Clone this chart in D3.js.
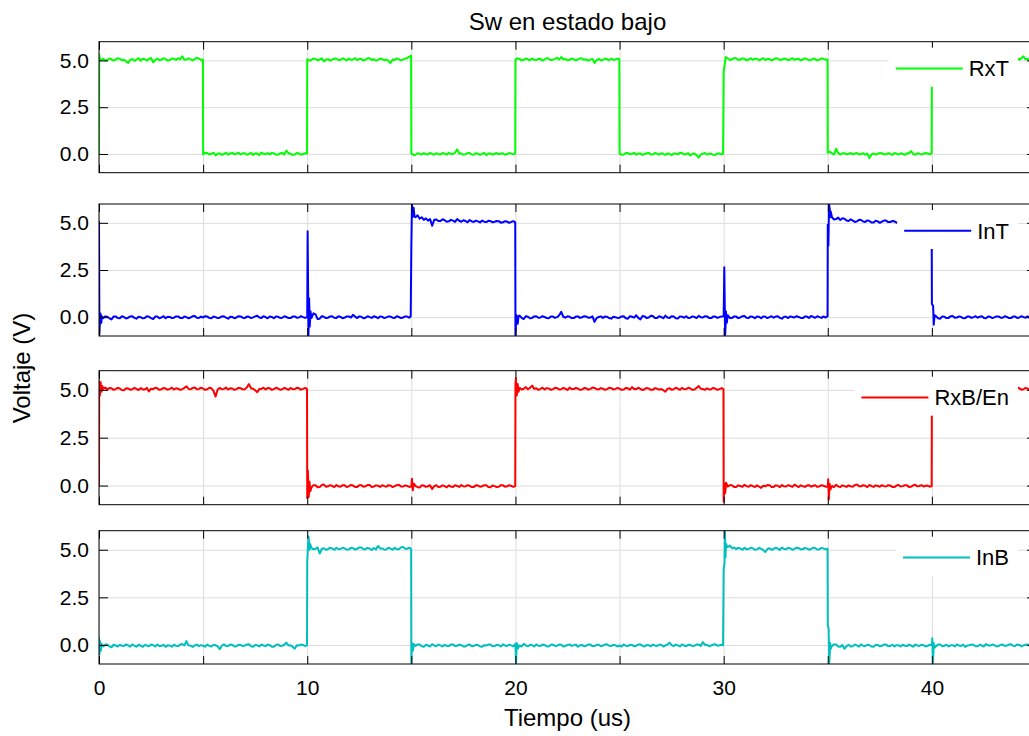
<!DOCTYPE html>
<html>
<head>
<meta charset="utf-8">
<script src="https://cdn.jsdelivr.net/npm/d3@7"></script>
<style>
  body { margin: 0; background: #fff; }
  svg { display: block; }
  text { font-family: "Liberation Sans", Arial, Helvetica, sans-serif; fill: #000; }
</style>
</head>
<body>
<svg id="chart" width="1029" height="736"></svg>
<script>
// Four scope channels, sampled every 0.1 us from 0 to 45 us (one row = 5 us).
const seriesNames = ["RxT", "InT", "RxB/En", "InB"];
const seriesColors = ["#00ff00", "#0000ff", "#ff0000", "#00bfbf"];
const sampleStep = 0.1;
const xTickLabels = [0, 10, 20, 30, 40];
const yTickValues = [0, 2.5, 5];

// RxT
const rxtSamples = [
  0.00,5.02,5.08,5.00,5.02,5.10,5.06,4.99,5.04,5.11,5.09,5.01,5.03,4.95,4.86,5.04,5.07,4.98,5.05,5.12,4.98,5.09,5.06,5.00,5.08,5.13,4.90,5.02,5.10,5.01,5.04,5.12,5.07,4.99,5.02,5.10,5.09,5.03,5.12,5.06,5.22,5.04,5.05,5.11,5.06,5.00,5.08,5.13,5.10,5.02,
  -0.02,0.06,0.05,-0.03,0.01,0.07,-0.08,0.02,0.03,-0.05,0.00,0.06,-0.04,0.03,0.06,-0.02,0.02,0.07,-0.03,0.04,0.04,-0.04,0.01,0.06,-0.05,0.03,0.02,-0.06,0.08,0.01,0.00,0.05,-0.02,0.06,0.03,-0.03,-0.04,0.04,0.05,-0.02,0.18,0.04,0.01,-0.05,-0.02,0.05,0.03,-0.04,0.00,0.04,
  5.06,5.00,5.02,5.10,5.08,5.01,5.05,5.11,4.95,5.04,5.07,4.99,5.04,5.10,5.09,5.02,5.03,5.12,5.06,5.00,5.10,5.03,5.05,5.12,5.02,5.08,5.08,4.99,5.04,5.11,5.11,5.02,5.06,5.00,5.03,5.10,5.07,5.01,5.05,4.98,4.86,5.05,5.02,5.11,5.06,5.00,5.04,5.10,5.12,5.20,
  0.03,-0.05,-0.04,0.04,0.02,-0.03,0.05,-0.02,-0.02,0.06,0.01,-0.04,0.04,0.00,-0.03,0.05,0.02,-0.04,0.06,0.01,0.00,0.07,0.25,0.02,0.03,-0.04,-0.01,0.05,0.05,-0.03,-0.04,0.04,0.02,-0.05,0.00,0.06,-0.06,0.02,0.03,-0.03,0.01,0.05,-0.02,0.03,0.04,-0.04,0.00,0.05,0.02,-0.02,
  5.04,5.11,5.08,5.00,5.03,5.10,5.06,5.01,5.10,5.03,5.02,5.09,5.07,4.99,5.05,5.12,5.09,5.02,5.04,5.08,5.14,5.05,5.18,5.06,5.08,5.01,5.03,5.10,5.07,5.00,5.05,5.11,5.10,5.03,5.06,4.99,5.04,5.08,4.86,5.02,5.08,5.00,5.02,5.10,5.06,5.01,5.09,5.03,5.05,5.10,
  0.02,-0.04,-0.03,0.05,0.05,-0.02,0.01,0.06,-0.04,0.02,0.03,-0.05,0.00,0.04,0.06,-0.03,-0.02,0.05,0.02,-0.04,0.04,0.01,-0.05,0.03,0.01,-0.06,0.03,0.02,-0.02,0.06,0.05,-0.03,0.00,0.04,-0.08,0.01,0.02,-0.06,-0.20,-0.02,0.01,0.05,-0.03,0.02,0.01,-0.04,-0.05,0.03,0.03,-0.02,
  4.40,5.18,5.10,5.02,5.06,5.13,5.12,5.03,5.04,5.11,5.08,5.00,5.05,5.12,5.03,5.09,5.09,5.01,5.06,5.12,5.02,5.08,5.07,5.00,5.05,5.11,5.10,5.03,5.04,5.10,5.08,5.01,5.06,5.12,5.03,5.08,5.09,5.00,5.05,5.11,5.07,5.01,5.02,5.10,5.06,5.00,5.04,5.11,5.08,5.03,
  0.06,0.12,0.04,-0.03,0.28,0.05,-0.03,0.04,0.04,-0.02,0.01,0.05,-0.02,0.03,0.05,-0.03,0.00,0.04,-0.04,0.02,-0.22,-0.02,0.03,-0.04,0.02,0.05,0.04,-0.02,-0.02,0.04,0.01,-0.05,0.05,0.02,-0.03,0.04,0.00,-0.04,0.03,0.05,0.15,0.00,-0.04,0.04,0.02,-0.03,0.01,0.05,0.03,-0.02,
  5.10,5.02,5.05,5.11,5.08,5.01,5.03,5.10,5.07,5.00,5.04,5.11,5.09,5.02,5.06,4.99,5.02,5.10,5.08,5.01,5.05,5.12,5.10,5.03,5.04,5.09,5.07,5.00,5.03,5.10,5.06,5.01,5.08,5.12,5.05,4.99,5.02,5.10,5.09,5.03,5.06,5.11,5.04,5.12,5.22,5.06,5.08,5.00,5.05,5.11,
  5.06
];
const rxtEvents = [
  [0.01,5.30],[0.05,5.05],[4.99,5.05],[9.99,0.02],[14.99,5.25],[19.99,0.02],
  [24.99,5.06],[29.97,0.02],[34.99,5.05],[39.99,0.03]
];

// InT
const intSamples = [
  5.10,0.08,-0.05,0.04,0.02,-0.06,-0.12,0.03,0.04,-0.05,-0.06,0.05,0.01,-0.07,-0.03,0.04,0.05,-0.04,-0.08,0.02,0.00,-0.06,-0.04,0.05,0.02,-0.05,-0.10,0.03,0.03,-0.06,-0.02,0.05,-0.06,0.02,0.01,-0.05,-0.03,0.04,0.04,-0.04,-0.05,0.03,0.00,-0.06,-0.02,0.05,0.06,-0.03,-0.04,0.03,
  -0.02,0.05,0.03,-0.04,-0.06,0.03,0.00,-0.05,-0.03,0.04,0.05,-0.03,-0.08,0.02,0.01,-0.06,-0.02,0.05,0.04,-0.03,-0.05,0.03,0.02,-0.05,-0.01,0.04,0.08,-0.02,-0.04,0.05,0.00,-0.06,0.03,0.01,-0.06,0.04,0.02,-0.04,-0.03,0.05,0.01,-0.05,-0.05,0.03,0.04,-0.03,-0.02,0.05,0.00,-0.04,
  0.00,0.60,-0.05,0.20,0.15,-0.10,-0.08,0.05,0.02,-0.05,-0.03,0.04,0.05,-0.03,-0.04,0.05,0.01,-0.06,-0.02,0.04,0.04,-0.02,0.12,0.03,-0.05,0.04,0.02,-0.06,-0.03,0.05,0.00,-0.04,0.05,0.01,-0.06,0.04,0.02,-0.05,-0.01,0.04,0.03,-0.03,-0.04,0.05,0.01,-0.05,-0.02,0.04,0.03,-0.03,
  3.80,5.55,5.30,5.40,5.22,5.30,5.15,5.24,5.12,5.20,4.85,5.16,5.18,5.10,5.10,5.19,5.14,5.06,5.08,5.16,5.12,5.05,5.20,5.11,5.06,5.14,5.10,5.03,5.15,5.08,5.05,5.12,5.08,5.02,5.12,5.06,5.04,5.11,5.10,5.03,5.06,5.10,5.09,5.01,5.03,5.09,5.07,5.00,5.05,5.09,
  -0.95,-0.20,0.08,-0.04,-0.10,0.05,0.02,-0.06,-0.04,0.04,0.05,-0.03,-0.02,0.05,0.01,-0.05,-0.06,0.03,0.03,-0.04,0.00,0.10,0.28,0.02,-0.03,0.05,0.02,-0.05,-0.05,0.03,0.04,-0.04,-0.01,0.05,0.03,-0.03,-0.02,0.04,-0.25,-0.05,0.01,0.04,-0.04,0.03,0.02,-0.05,-0.08,0.02,0.00,-0.04,
  -0.03,0.04,0.05,-0.06,-0.08,0.05,0.02,-0.03,0.10,-0.04,-0.12,0.06,0.04,-0.05,-0.02,0.07,0.06,-0.04,-0.05,0.05,0.01,-0.06,0.08,-0.02,-0.04,0.05,0.03,-0.06,-0.07,0.04,0.02,-0.03,0.05,-0.05,-0.03,0.04,0.01,-0.05,0.07,0.00,-0.02,0.05,0.04,-0.04,-0.05,0.03,0.03,-0.04,0.00,0.04,
  0.05,-0.30,0.10,-0.04,-0.05,0.04,0.03,-0.05,-0.02,0.05,0.06,-0.03,-0.04,0.04,0.01,-0.06,0.03,0.02,-0.06,0.04,0.02,-0.05,0.00,0.05,-0.03,0.03,0.05,-0.04,-0.08,0.02,0.02,-0.05,0.04,0.01,-0.02,0.05,0.01,-0.04,-0.05,0.03,0.03,-0.04,0.06,0.01,-0.03,0.05,0.00,-0.04,0.04,-0.02,
  4.90,5.70,5.30,5.18,5.20,5.28,5.15,5.24,5.22,5.12,5.10,5.19,5.12,5.05,5.08,5.16,5.15,5.07,5.05,5.13,5.10,5.02,5.02,5.11,5.08,5.00,5.06,5.12,5.12,5.04,5.04,5.10,5.08,5.01,5.03,5.09,5.06,5.00,5.05,5.10,5.02,5.08,5.07,5.00,5.04,5.10,5.06,5.01,5.03,5.09,
  0.70,-0.25,0.05,-0.06,-0.08,0.04,0.02,-0.05,-0.04,0.05,0.06,-0.03,-0.02,0.04,0.01,-0.06,-0.05,0.03,0.03,-0.04,0.00,0.05,-0.03,0.02,0.05,-0.04,-0.06,0.03,0.02,-0.05,-0.01,0.04,0.04,-0.03,-0.03,0.05,0.01,-0.05,-0.05,0.03,0.03,-0.04,-0.02,0.05,0.00,-0.03,0.04,-0.05,-0.03,0.04,
  0.01
];
const intEvents = [
  [0.02,-0.90],[0.06,0.20],[0.11,-0.30],[0.14,0.05],
  [10.02,4.55],[10.06,-0.95],[10.09,1.00],[10.12,-0.50],[10.16,0.30],
  [14.97,0.05],[15.03,5.95],[15.07,5.30],[15.11,5.80],[15.15,5.35],
  [19.99,5.03],[20.05,0.10],[20.11,-0.35],[20.15,0.05],
  [30.03,2.65],[30.07,-0.95],[30.11,0.30],[30.15,-0.30],
  [34.99,0.05],[35.03,3.80],[35.06,6.00],[35.11,5.30],[35.14,5.60],
  [39.99,5.04],[40.06,0.60],[40.09,-0.40],[40.13,0.10]
];

// RxB/En
const rxbSamples = [
  0.00,5.00,5.05,5.12,5.02,5.09,5.08,5.00,5.04,5.11,5.06,4.99,4.98,5.08,5.07,5.01,5.03,5.10,5.05,4.99,5.09,5.02,5.02,5.10,4.92,5.06,5.04,5.11,5.08,5.00,5.03,5.10,5.07,5.01,5.05,5.11,5.02,5.08,5.06,5.00,5.04,5.10,5.18,5.05,5.03,5.10,5.12,5.03,5.05,5.11,
  5.06,5.00,5.03,5.11,5.08,4.95,4.65,5.02,5.10,5.03,5.05,5.12,5.02,5.08,5.07,5.00,5.04,5.11,5.09,5.02,5.03,5.12,5.30,5.08,5.06,4.98,4.88,5.04,5.05,5.11,5.02,5.09,5.08,5.00,5.04,5.11,5.07,5.01,5.03,5.10,5.06,5.00,5.10,5.03,5.04,5.11,5.08,5.01,5.05,5.10,
  -0.65,-0.20,-0.10,0.02,0.02,-0.09,-0.08,0.03,0.05,-0.06,-0.04,0.02,-0.02,-0.08,0.03,-0.04,-0.06,0.02,0.01,-0.08,-0.03,0.03,0.00,-0.07,-0.07,0.01,0.02,-0.06,-0.04,0.03,0.03,-0.08,-0.05,0.01,-0.01,-0.07,0.02,-0.03,-0.06,0.02,0.00,-0.08,-0.03,0.02,0.04,-0.05,-0.05,0.01,-0.02,-0.07,
  -0.05,0.00,-0.02,-0.09,-0.10,0.01,0.00,-0.07,-0.04,0.02,-0.18,-0.03,0.02,-0.08,-0.06,0.01,-0.03,-0.09,0.01,-0.05,-0.08,0.02,-0.02,-0.07,0.03,-0.04,-0.05,0.02,-0.01,-0.08,-0.07,0.01,0.00,-0.06,-0.04,0.02,0.02,-0.07,-0.09,0.00,-0.03,-0.08,-0.06,0.02,0.01,-0.06,-0.04,0.02,-0.02,-0.07,
  5.30,5.00,5.10,5.02,5.06,5.14,5.03,5.10,5.22,5.05,5.08,5.00,5.05,5.11,5.02,5.09,5.07,5.00,5.04,5.11,5.09,5.02,5.03,5.10,5.06,4.99,5.12,5.04,5.04,5.10,5.07,5.00,5.02,5.09,5.08,5.01,5.05,5.12,5.10,5.03,5.03,5.09,5.06,5.00,5.04,5.11,5.09,5.02,5.05,5.10,
  5.06,5.00,5.02,5.10,5.08,5.01,5.14,5.05,5.04,5.11,5.05,4.99,5.03,5.10,5.07,5.00,5.00,5.09,5.06,5.01,5.04,4.98,4.90,5.05,5.08,5.01,5.03,5.11,5.06,5.00,5.10,5.03,5.04,5.11,5.07,5.00,5.02,5.10,5.20,5.06,5.05,5.00,5.08,5.02,5.03,5.10,5.06,5.00,5.04,5.09,
  -0.85,-0.10,-0.05,0.02,0.02,-0.08,-0.08,0.01,-0.02,-0.07,0.04,-0.03,-0.06,0.02,-0.03,-0.08,0.01,-0.05,-0.12,-0.01,-0.04,0.03,0.02,-0.07,-0.07,0.01,-0.01,-0.08,0.03,-0.04,-0.05,0.02,-0.02,-0.07,0.05,-0.02,-0.08,0.01,-0.03,-0.07,0.00,0.02,-0.06,-0.01,0.02,-0.07,-0.04,0.02,-0.01,-0.06,
  -0.05,0.00,-0.02,-0.08,0.04,-0.04,-0.08,0.01,-0.03,-0.07,0.01,-0.04,-0.06,0.02,0.06,-0.03,-0.04,0.02,-0.01,-0.08,0.03,-0.03,-0.07,0.01,-0.02,-0.06,0.02,-0.03,-0.05,0.02,0.00,-0.07,-0.08,0.00,0.03,-0.05,-0.03,0.02,0.01,-0.07,-0.06,0.01,0.04,-0.04,-0.02,0.02,-0.05,-0.01,0.00,-0.06,
  5.05,5.12,5.08,5.00,5.03,5.10,5.06,5.01,5.10,5.03,5.04,5.11,5.07,5.00,5.02,5.09,5.05,5.12,5.09,5.01,5.03,5.10,5.06,5.00,5.04,5.11,5.08,5.01,5.02,5.10,5.07,5.00,5.05,5.11,5.03,5.09,5.06,5.00,5.10,5.03,5.04,5.12,5.08,5.01,5.03,5.10,5.06,5.00,5.05,5.11,
  5.04
];
const rxbEvents = [
  [0.01,5.45],[0.04,4.70],[0.08,5.40],[0.12,4.90],[0.16,5.20],
  [9.99,5.05],[10.03,0.80],[10.07,-0.60],[10.11,0.20],[10.15,-0.30],
  [15.03,0.35],[15.07,-0.25],[15.12,0.10],
  [19.99,-0.03],[20.02,5.60],[20.06,4.70],[20.11,5.30],[20.15,4.90],
  [29.99,5.04],[30.03,0.10],[30.07,-0.40],[30.11,0.15],
  [35.02,0.33],[35.05,-0.72],[35.09,0.10],[35.13,-0.20],
  [39.99,-0.03]
];

// InB
const inbSamples = [
  0.40,-0.10,-0.08,0.02,0.02,-0.07,-0.12,0.01,-0.03,-0.08,0.01,-0.04,-0.06,0.03,-0.02,-0.09,0.03,-0.04,-0.09,0.01,-0.04,-0.10,0.00,-0.03,-0.07,0.02,-0.01,-0.08,0.02,-0.05,-0.05,0.01,-0.10,-0.02,-0.03,-0.09,0.01,-0.04,-0.06,0.02,0.05,-0.03,0.20,-0.02,-0.04,-0.10,-0.02,0.02,-0.06,-0.01,
  -0.04,-0.09,0.02,-0.05,-0.08,0.01,-0.02,-0.08,-0.22,-0.04,0.03,-0.06,-0.05,0.02,0.01,-0.08,-0.07,0.01,0.00,-0.06,-0.03,0.02,0.04,-0.07,-0.09,0.00,-0.02,-0.08,0.02,-0.03,-0.06,0.02,-0.01,-0.09,-0.10,0.00,0.03,-0.05,-0.04,0.01,0.12,-0.03,-0.02,-0.09,-0.20,-0.02,-0.03,0.02,0.00,-0.06,
  4.40,5.20,5.10,5.02,5.05,5.12,4.80,5.04,5.08,5.00,5.03,5.11,5.06,5.00,5.10,5.03,5.04,5.11,5.07,5.00,5.02,5.10,5.08,5.01,5.05,5.12,5.12,5.03,5.03,5.10,5.06,4.99,5.09,5.02,5.20,5.07,5.07,5.00,5.02,5.11,5.06,5.00,5.10,5.03,5.03,5.12,5.15,5.05,5.05,5.11,
  -0.95,-0.15,-0.05,0.03,0.02,-0.07,-0.10,0.01,-0.03,-0.08,0.04,-0.03,-0.07,0.02,-0.02,-0.08,0.01,-0.05,-0.06,0.02,0.03,-0.06,-0.04,0.01,-0.01,-0.08,-0.08,0.00,0.02,-0.06,-0.05,0.01,0.00,-0.08,-0.09,-0.01,-0.03,0.02,0.02,-0.07,-0.06,0.01,-0.01,-0.08,0.03,-0.03,-0.05,0.02,-0.02,-0.07,
  0.05,0.00,-0.03,-0.08,0.06,-0.02,-0.07,0.01,-0.01,-0.08,0.03,-0.04,-0.05,0.02,0.00,-0.07,-0.08,0.01,0.02,-0.05,-0.04,0.02,0.01,-0.08,-0.06,0.00,0.03,-0.05,-0.02,0.02,-0.09,-0.02,0.00,-0.07,-0.04,0.02,0.02,-0.06,-0.06,0.01,0.01,-0.07,-0.03,0.02,0.04,-0.04,-0.05,0.01,-0.01,-0.08,
  -0.03,-0.08,0.02,-0.04,-0.06,0.01,0.00,-0.07,-0.04,0.02,0.03,-0.05,-0.08,0.00,-0.01,-0.07,0.02,-0.03,-0.05,0.01,0.01,-0.08,-0.03,0.02,0.12,-0.01,-0.06,0.02,-0.02,-0.08,0.03,-0.03,-0.07,0.01,0.00,-0.06,-0.04,0.02,0.02,-0.05,0.15,0.00,0.01,-0.07,-0.03,0.02,0.04,-0.04,-0.02,0.01,
  3.95,5.00,5.15,5.22,5.08,5.12,5.03,5.11,5.06,5.00,5.10,5.02,5.04,5.11,5.07,5.00,5.02,5.10,5.05,4.98,4.88,5.04,5.08,5.00,5.04,5.11,5.06,4.99,5.12,5.04,5.03,5.10,5.07,5.00,5.05,5.11,5.09,5.02,5.02,5.10,5.06,5.00,5.04,5.11,5.08,5.01,5.03,5.10,5.06,5.02,
  1.00,-0.40,-0.05,0.03,0.02,-0.08,-0.10,0.00,-0.20,-0.06,0.01,-0.08,-0.07,0.02,-0.02,-0.09,0.03,-0.04,-0.06,0.01,-0.01,-0.08,-0.09,0.00,0.00,-0.07,-0.04,0.02,0.02,-0.06,-0.05,0.01,-0.08,-0.01,-0.02,-0.08,0.01,-0.04,-0.06,0.02,-0.03,-0.09,0.02,-0.03,-0.05,0.01,-0.01,-0.08,-0.04,0.01,
  0.00,0.00,-0.06,0.02,0.02,-0.07,-0.04,0.01,-0.08,-0.02,-0.01,-0.08,0.03,-0.03,-0.05,0.02,-0.10,-0.03,-0.02,0.02,0.01,-0.07,-0.07,0.01,-0.03,-0.08,0.05,-0.02,-0.04,0.02,-0.01,-0.08,-0.06,0.01,0.02,-0.05,-0.03,0.03,0.04,-0.04,-0.05,0.02,0.00,-0.07,-0.02,0.01,0.03,-0.05,-0.01,0.02,
  -0.03
];
const inbEvents = [
  [0.02,-0.50],[0.05,0.20],[0.09,-0.30],[0.13,0.05],
  [9.99,-0.02],[10.06,5.70],[10.11,5.00],[10.14,5.30],
  [14.99,5.04],[15.03,0.10],[15.07,-0.30],[15.11,0.05],
  [20.03,-0.93],[20.06,0.10],[20.11,-0.20],
  [29.97,-0.02],[30.04,4.30],[30.06,6.00],[30.09,4.60],[30.12,5.30],[30.16,5.15],
  [34.99,5.05],[35.04,0.90],[35.07,-0.95],[35.11,0.10],[35.14,-0.20],
  [40.02,0.35],[40.05,-1.00],[40.09,0.10],[40.13,-0.15]
];

const seriesSamples = [rxtSamples, intSamples, rxbSamples, inbSamples];
const seriesEvents = [rxtEvents, intEvents, rxbEvents, inbEvents];

// Merge the regular samples with the edge / ringing points, ordered by time.
function tracePoints(samples, events) {
  const pts = samples.map((v, i) => ({ t: +(i * sampleStep).toFixed(3), v, k: 0 }));
  events.forEach(([t, v]) => pts.push({ t, v, k: 1 }));
  return pts.sort((a, b) => a.t - b.t || a.k - b.k);
}

// ---- layout ----
const svg = d3.select("#chart");
const xLeft = 99, xRight = 1036;
const panels = [
  { top: 41.7, bottom: 172.7 },
  { top: 204, bottom: 336 },
  { top: 370.7, bottom: 504.7 },
  { top: 530.7, bottom: 664 }
];
const x = d3.scaleLinear().domain([0, 45]).range([xLeft, xRight]);
const xMinor = d3.range(0, 46, 5);
const gridColor = "#dcdcdc";

panels.forEach((p, i) => {
  const y = d3.scaleLinear().domain([-1, 6]).range([p.bottom, p.top]);
  const h = p.bottom - p.top, w = xRight - xLeft;
  const g = svg.append("g");

  // grid
  g.append("g").attr("transform", `translate(0,${p.bottom})`)
    .call(d3.axisBottom(x).tickValues(xMinor).tickSize(-h).tickFormat(""))
    .call(a => { a.select(".domain").remove(); a.selectAll("line").attr("stroke", gridColor); });
  g.append("g").attr("transform", `translate(${xLeft},0)`)
    .call(d3.axisLeft(y).tickValues(yTickValues).tickSize(-w).tickFormat(""))
    .call(a => { a.select(".domain").remove(); a.selectAll("line").attr("stroke", gridColor); });

  // trace
  const clipId = "clip" + i;
  svg.append("clipPath").attr("id", clipId)
    .append("rect").attr("x", xLeft).attr("y", p.top).attr("width", w).attr("height", h);
  const line = d3.line().x(d => x(d.t)).y(d => y(d.v));
  g.append("path")
    .datum(tracePoints(seriesSamples[i], seriesEvents[i]))
    .attr("clip-path", `url(#${clipId})`)
    .attr("fill", "none")
    .attr("stroke", seriesColors[i])
    .attr("stroke-width", 2)
    .attr("stroke-linejoin", "round")
    .attr("d", line);

  // frame
  g.append("rect").attr("x", xLeft).attr("y", p.top).attr("width", w).attr("height", h)
    .attr("fill", "none").attr("stroke", "#000").attr("stroke-width", 1);

  // inward ticks
  g.append("g").attr("transform", `translate(0,${p.bottom})`)
    .call(d3.axisBottom(x).tickValues(xMinor).tickSize(-8).tickSizeOuter(0).tickFormat(""))
    .call(a => a.select(".domain").remove());
  g.append("g").attr("transform", `translate(0,${p.top})`)
    .call(d3.axisTop(x).tickValues(xMinor).tickSize(-8).tickSizeOuter(0).tickFormat(""))
    .call(a => a.select(".domain").remove());
  g.append("g").attr("transform", `translate(${xRight},0)`)
    .call(d3.axisRight(y).tickValues(yTickValues).tickSize(-9).tickSizeOuter(0).tickFormat(""))
    .call(a => a.select(".domain").remove());
  g.append("g").attr("transform", `translate(${xLeft},0)`)
    .call(d3.axisLeft(y).tickValues(yTickValues).tickSize(-9).tickSizeOuter(0)
      .tickPadding(10).tickFormat(d3.format(".1f")))
    .call(a => {
      a.select(".domain").remove();
      a.selectAll("text").attr("font-size", 21).attr("font-family", null);
    });

  if (i === panels.length - 1) {
    g.append("g").attr("transform", `translate(0,${p.bottom})`)
      .call(d3.axisBottom(x).tickValues(xTickLabels).tickSize(0).tickPadding(16))
      .call(a => {
        a.select(".domain").remove();
        a.selectAll("text").attr("font-size", 21).attr("font-family", null);
      });
  }

  // legend (top right, white box over the trace)
  const lg = g.append("g");
  const box = lg.append("rect").attr("fill", "#fff");
  const txt = lg.append("text").attr("font-size", 22).attr("text-anchor", "end")
    .attr("x", xRight - 27).attr("y", p.top + 26.7).attr("dy", "0.36em").text(seriesNames[i]);
  const tw = txt.node().getComputedTextLength();
  const textStart = xRight - 27 - tw;
  const lineEnd = textStart - 6, lineStart = lineEnd - 67;
  lg.append("line").attr("x1", lineStart).attr("x2", lineEnd)
    .attr("y1", p.top + 26.7).attr("y2", p.top + 26.7)
    .attr("stroke", seriesColors[i]).attr("stroke-width", 2);
  box.attr("x", lineStart - 7).attr("y", p.top + 6)
    .attr("width", xRight - 18 - (lineStart - 7)).attr("height", 39);
});

// titles
svg.append("text").attr("x", (xLeft + xRight) / 2).attr("y", 30)
  .attr("text-anchor", "middle").attr("font-size", 24).text("Sw en estado bajo");
svg.append("text").attr("x", (xLeft + xRight) / 2).attr("y", 726)
  .attr("text-anchor", "middle").attr("font-size", 24).text("Tiempo (us)");
svg.append("text").attr("transform", "translate(30,368) rotate(-90)")
  .attr("text-anchor", "middle").attr("font-size", 24).text("Voltaje (V)");
</script>
</body>
</html>
